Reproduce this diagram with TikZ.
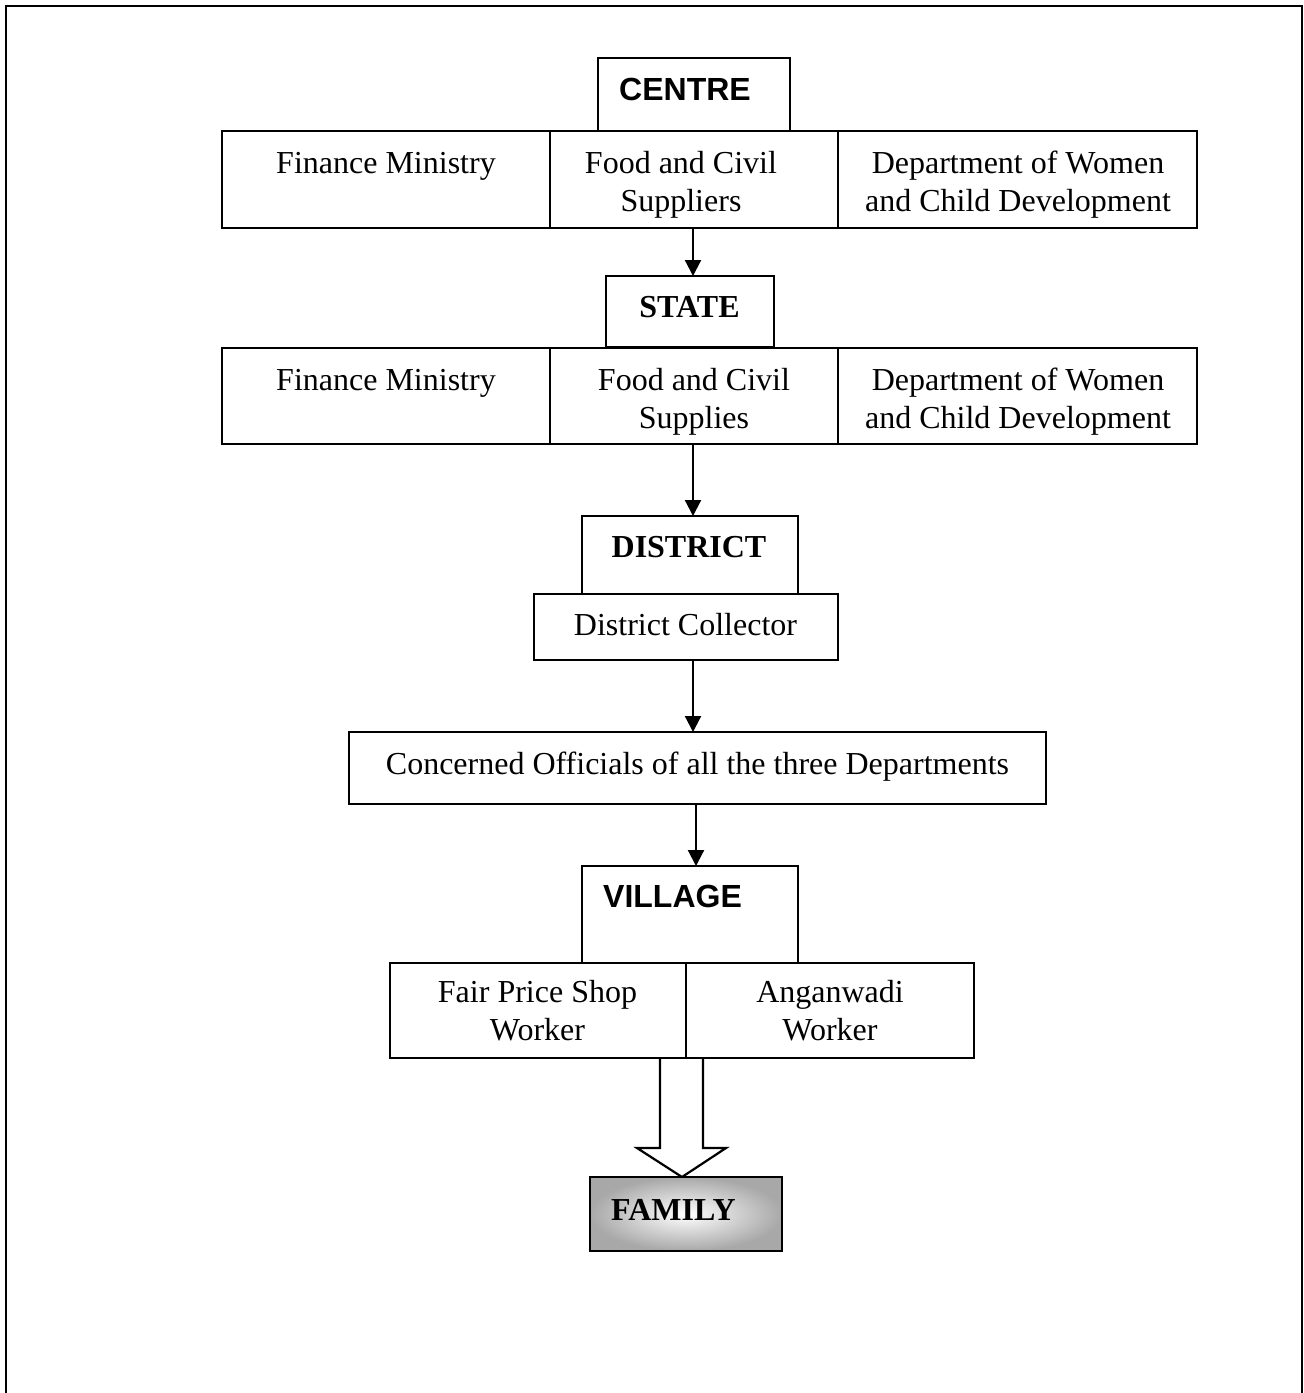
\documentclass[tikz,border=0pt]{standalone}
\usepackage{fontspec}
\setmainfont{Liberation Serif}
\setsansfont{Liberation Sans}
\usetikzlibrary{arrows.meta}
\pgfdeclarelayer{background}
\pgfsetlayers{background,main}
\begin{document}
\begin{tikzpicture}[x=1pt,y=-1pt,
  box/.style={draw=black,line width=2.2pt,fill=white,inner sep=0pt,outer sep=0pt,anchor=north west},
  txt/.style={inner sep=0pt,align=center,anchor=base,font=\fontsize{32}{38}\selectfont},
  stxt/.style={inner sep=0pt,anchor=base west,font=\fontsize{32}{38}\selectfont\sffamily\bfseries},
  btxt/.style={inner sep=0pt,anchor=base,font=\fontsize{32}{38}\selectfont\bfseries},
  arr/.style={line width=2.2pt,-{Triangle[length=16pt,width=16pt]}}]
\useasboundingbox (0,0) rectangle (1304,1393);
% outer frame (open at the bottom)
\draw[line width=2.4pt] (6,1400) -- (6,6) -- (1302,6) -- (1302,1400);
% CENTRE
\node[box,minimum width=192pt,minimum height=73pt] (centre) at (598,58) {};
\node[stxt] (centret) at (619,100) {CENTRE};
% row 1
\node[box,minimum width=328pt,minimum height=97pt] (c1l) at (222,131) {};
\node[box,minimum width=288pt,minimum height=97pt] (c1m) at (550,131) {};
\node[box,minimum width=359pt,minimum height=97pt] (c1r) at (838,131) {};
\node[txt] (c1lt) at (386,173) {Finance Ministry};
\node[txt] (c1mt) at (681,211) {Food and Civil\\Suppliers};
\node[txt] (c1rt) at (1018,211) {Department of Women\\and Child Development};
% STATE
\node[box,minimum width=168pt,minimum height=71pt] (state) at (606,276) {};
\node[btxt] (statet) at (689.5,317) {STATE};
% row 2
\node[box,minimum width=328pt,minimum height=96pt] (s2l) at (222,348) {};
\node[box,minimum width=288pt,minimum height=96pt] (s2m) at (550,348) {};
\node[box,minimum width=359pt,minimum height=96pt] (s2r) at (838,348) {};
\node[txt] (s2lt) at (386,390) {Finance Ministry};
\node[txt] (s2mt) at (694,428) {Food and Civil\\Supplies};
\node[txt] (s2rt) at (1018,428) {Department of Women\\and Child Development};
% DISTRICT
\node[box,minimum width=216pt,minimum height=78pt] (district) at (582,516) {};
\node[btxt] (districtt) at (689,557) {DISTRICT};
\node[box,minimum width=304pt,minimum height=66pt] (dc) at (534,594) {};
\node[txt] (dct) at (685.5,635) {District Collector};
% Concerned officials
\node[box,minimum width=697pt,minimum height=72pt] (off) at (349,732) {};
\node[txt] (offt) at (697.5,774) {Concerned Officials of all the three Departments};
% VILLAGE
\node[box,minimum width=216pt,minimum height=97pt] (village) at (582,866) {};
\node[stxt] (villaget) at (603,907) {VILLAGE};
\node[box,minimum width=296pt,minimum height=95pt,fill=none] (fps) at (390,963) {};
\node[box,minimum width=288pt,minimum height=95pt,fill=none] (aw) at (686,963) {};
\node[txt] (fpst) at (537.5,1040) {Fair Price Shop\\Worker};
\node[txt] (awt) at (830,1040) {Anganwadi\\Worker};
% FAMILY
\node[box,draw=none,minimum width=192pt,minimum height=74pt,inner color=white,outer color=black!34,shading=radial] (family) at (590,1177) {};
\draw[line width=2.2pt] (family.north west) rectangle (family.south east);
\node[btxt,anchor=base west] (familyt) at (611,1220) {FAMILY};
% connectors
\coordinate (ax) at (693,0);
\draw[arr] (c1m.south -| ax) -- (state.north -| ax);
\draw[arr] (s2m.south -| ax) -- (district.north -| ax);
\draw[arr] (dc.south -| ax) -- (off.north -| ax);
\coordinate (bx) at (696,0);
\draw[arr] (off.south -| bx) -- (village.north -| bx);
% block arrow
\coordinate (tip) at (682,1177);
\begin{pgfonlayer}{background}
\draw[line width=2.2pt,fill=white,line join=miter] (660,1058) -- (660,1148) -- (637,1148) -- (family.north -| tip) -- (726,1148) -- (703,1148) -- (703,1058);
\end{pgfonlayer}
\end{tikzpicture}
\end{document}
